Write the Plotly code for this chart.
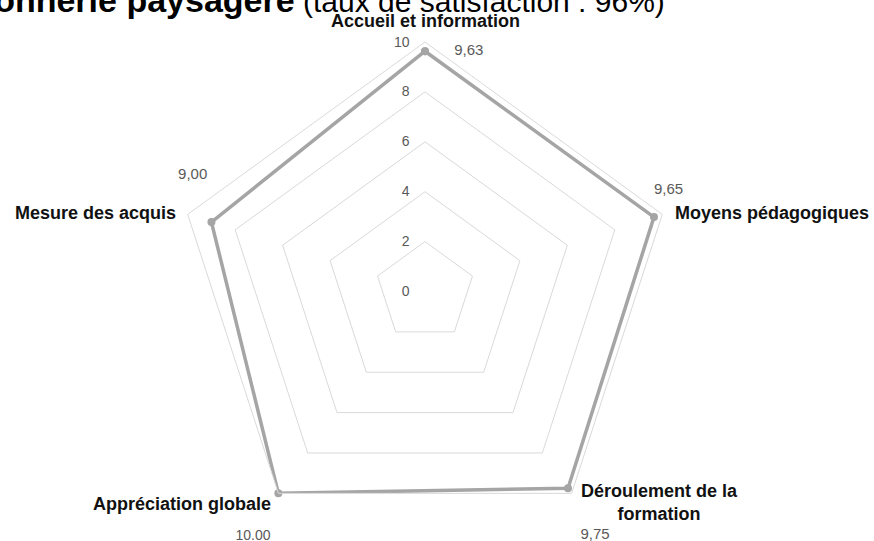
import plotly.graph_objects as go

categories = ["Accueil et information", "Moyens pédagogiques", "Déroulement de la formation",
              "Appréciation globale", "Mesure des acquis"]
values = [9.63, 9.65, 9.75, 10.00, 9.00]
value_labels = ["9,63", "9,65", "9,75", "10.00", "9,00"]
radial_ticks = [0, 2, 4, 6, 8, 10]

W, H = 874, 541
NB = "\u00a0"

# padding used only to push the value labels away from the markers (as Excel's leader-line labels)
label_text = [
    NB * 7 + value_labels[0],
    value_labels[1] + "<br>" + NB,
    NB + "<br>" + NB + "<br>" + NB * 3 + value_labels[2],
    NB + "<br>" + NB + "<br>" + value_labels[3] + NB * 2,
    value_labels[4] + NB + "<br>" + NB + "<br>" + NB,
]
label_pos = ["middle right", "top right", "bottom right", "bottom left", "top left"]
label_size = [15, 15, 15, 14, 15]

fig = go.Figure()
fig.add_trace(go.Scatterpolar(
    r=values + [values[0]],
    theta=categories + [categories[0]],
    mode="lines+markers",
    line=dict(color="#A5A5A5", width=3.5),
    marker=dict(color="#A5A5A5", size=8),
    hoverinfo="skip",
    showlegend=False,
))
fig.add_trace(go.Scatterpolar(
    r=values,
    theta=categories,
    mode="text",
    text=label_text,
    textposition=label_pos,
    textfont=dict(family="Liberation Sans, Arial", size=label_size, color="#595959"),
    hoverinfo="skip",
    showlegend=False,
    cliponaxis=False,
))

# category labels (placed like Excel's radar labels)
cat_display = ["Accueil et information", "Moyens pédagogiques", "Déroulement de la<br>formation",
               "Appréciation globale", "Mesure des acquis"]
cat_xy = [(425, 21, "center"), (673, 213, "left"), (659, 502, "center"), (273, 504, "right"), (178, 213, "right")]
annotations = []
for txt, (px, py, xa) in zip(cat_display, cat_xy):
    annotations.append(dict(
        text=txt, xref="paper", yref="paper",
        x=px / W, y=1 - py / H, xanchor=xa, yanchor="middle", align="center",
        showarrow=False,
        font=dict(family="Liberation Sans, Arial", size=18, color="#111111", weight="bold"),
    ))

annotations.append(dict(
    text="<span style='font-size:34px'><b>Maçonnerie paysagère</b></span> (taux de satisfaction : 96%)",
    xref="paper", yref="paper",
    x=667 / W, y=1 + 0 / H,
    xanchor="right", yanchor="middle",
    showarrow=False,
    font=dict(family="Liberation Sans, Arial", size=30, color="#000000"),
))

fig.update_layout(
    width=W, height=H,
    margin=dict(l=0, r=0, t=0, b=0),
    paper_bgcolor="white",
    plot_bgcolor="white",
    showlegend=False,
    polar=dict(
        domain=dict(x=[175 / W, 675 / W], y=[0, 499 / H]),
        bgcolor="white",
        gridshape="linear",
        radialaxis=dict(
            range=[0, 10],
            tickvals=radial_ticks,
            ticktext=[str(t) for t in radial_ticks],
            angle=90,
            tickangle=90,
            side="counterclockwise",
            showline=False,
            gridcolor="#D9D9D9",
            gridwidth=1,
            ticks="outside",
            ticklen=10,
            tickcolor="rgba(0,0,0,0)",
            tickfont=dict(family="Liberation Sans, Arial", size=14, color="#595959"),
        ),
        angularaxis=dict(
            rotation=90,
            direction="clockwise",
            showgrid=False,
            showline=True,
            linecolor="#D9D9D9",
            linewidth=1,
            ticks="",
            showticklabels=False,
        ),
    ),
    annotations=annotations,
)

fig.write_html("out.html", config={"displayModeBar": False},
               post_script="document.body.style.margin='0';document.body.style.padding='0';")
